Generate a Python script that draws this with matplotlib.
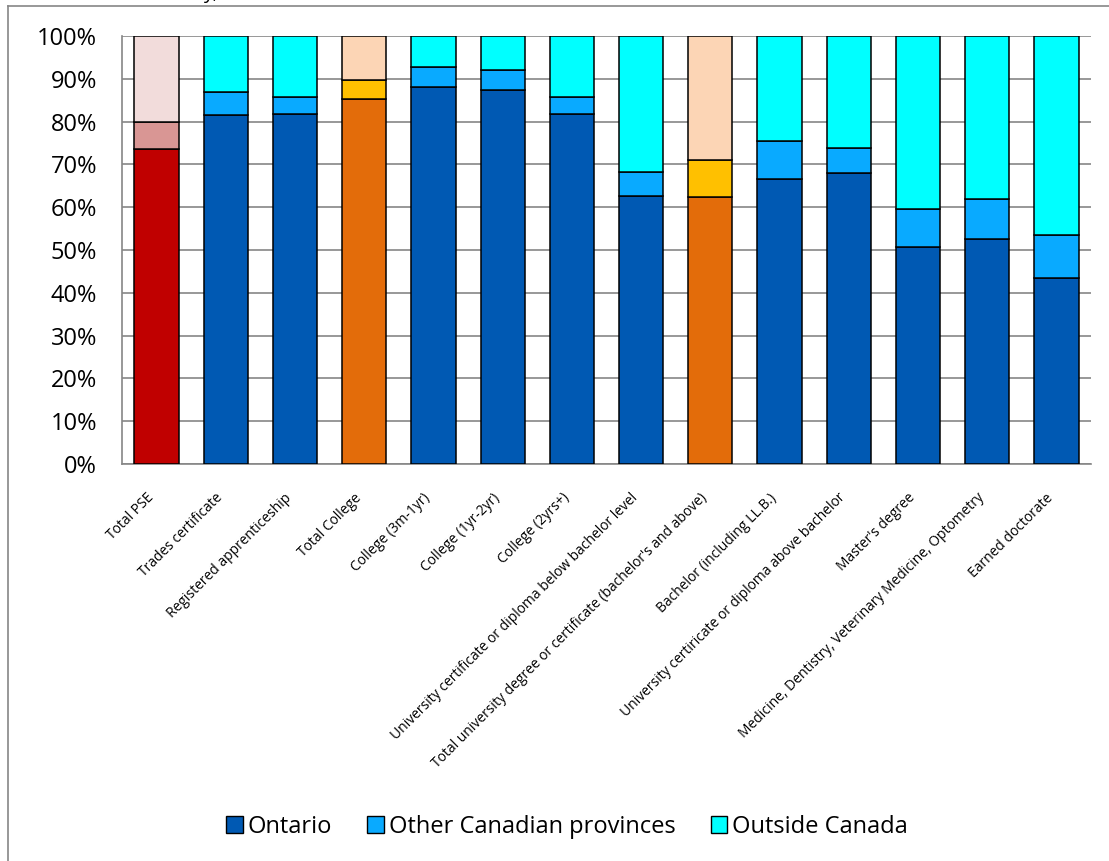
import numpy as np
import matplotlib.pyplot as plt
from matplotlib.lines import Line2D
from matplotlib.patches import Patch

categories = [
    "Total PSE",
    "Trades certificate",
    "Registered apprenticeship",
    "Total College",
    "College (3m-1yr)",
    "College (1yr-2yr)",
    "College (2yrs+)",
    "University certificate or diploma below bachelor level",
    "Total university degree or certificate (bachelor's and above)",
    "Bachelor (including LL.B.)",
    "University certiricate or diploma above bachelor",
    "Master's degree",
    "Medicine, Dentistry, Veterinary Medicine, Optometry",
    "Earned doctorate",
]
ontario = [73.5, 81.5, 81.8, 85.2, 88.2, 87.3, 81.7, 62.7, 62.5, 66.7, 67.9, 50.7, 52.6, 43.4]
other_prov = [6.3, 5.3, 4.0, 4.5, 4.6, 4.8, 4.1, 5.6, 8.6, 8.8, 5.9, 8.8, 9.2, 10.0]
outside = [100 - a - b for a, b in zip(ontario, other_prov)]

series_names = ["Ontario", "Other Canadian provinces", "Outside Canada"]

# colour scheme per bar: totals get their own shades
blue = ["#0059B3", "#09AAFF", "#00FFFF"]
red = ["#C00000", "#D99694", "#F2DCDB"]
orange = ["#E36C0A", "#FFC000", "#FCD5B5"]
schemes = [red, blue, blue, orange, blue, blue, blue, blue, orange, blue, blue, blue, blue, blue]

grid_col = "#868686"
font = ["Open Sans", "DejaVu Sans"]
plt.rcParams["font.family"] = font

fig = plt.figure(figsize=(11.09, 8.61), dpi=100)
ax = fig.add_axes([122 / 1109, 1 - 464 / 861, (1091 - 122) / 1109, (464 - 36) / 861])

x = np.arange(len(categories))
width = 0.64
for i in range(len(categories)):
    cols = schemes[i]
    ax.bar(x[i], ontario[i], width, color=cols[0], edgecolor="black", linewidth=1.1, zorder=3)
    ax.bar(x[i], other_prov[i], width, bottom=ontario[i], color=cols[1],
           edgecolor="black", linewidth=1.1, zorder=3)
    ax.bar(x[i], outside[i], width, bottom=ontario[i] + other_prov[i], color=cols[2],
           edgecolor="black", linewidth=1.1, zorder=3)

ax.set_xlim(-0.5, 13.5)
ax.set_ylim(0, 100)
ax.set_yticks(np.arange(0, 101, 10))
ax.set_yticklabels(["{}%".format(v) for v in range(0, 101, 10)], fontsize=17)
ax.yaxis.grid(True, color=grid_col, linewidth=1.2, zorder=0)
ax.tick_params(axis="y", length=0, pad=18)
ax.set_xticks(x)
ax.set_xticklabels(categories, rotation=45, ha="right", va="top", fontsize=10)
ax.tick_params(axis="x", length=0, pad=19)
for s in ["top", "right"]:
    ax.spines[s].set_visible(False)
for s in ["left", "bottom"]:
    ax.spines[s].set_color(grid_col)
    ax.spines[s].set_linewidth(1.2)

handles = [Patch(facecolor=c, edgecolor="black", linewidth=1.0) for c in blue]
fig.legend(handles, series_names, loc="center", bbox_to_anchor=(567 / 1109, 1 - 827 / 861),
           ncol=3, frameon=False, fontsize=17, handlelength=0.7, handleheight=0.7,
           handletextpad=0.2, columnspacing=1.5)

# outer chart frame and clipped title remnant
fig.add_artist(Line2D([8 / 1109, 1], [1 - 6 / 861, 1 - 6 / 861], color=grid_col, linewidth=1.2))
fig.add_artist(Line2D([8 / 1109, 8 / 1109], [0, 1 - 6 / 861], color=grid_col, linewidth=1.2))
fig.text(203 / 1109, 1 + 1 / 861, "y,", fontsize=14, va="baseline")

fig.savefig("out.png", dpi=100)
